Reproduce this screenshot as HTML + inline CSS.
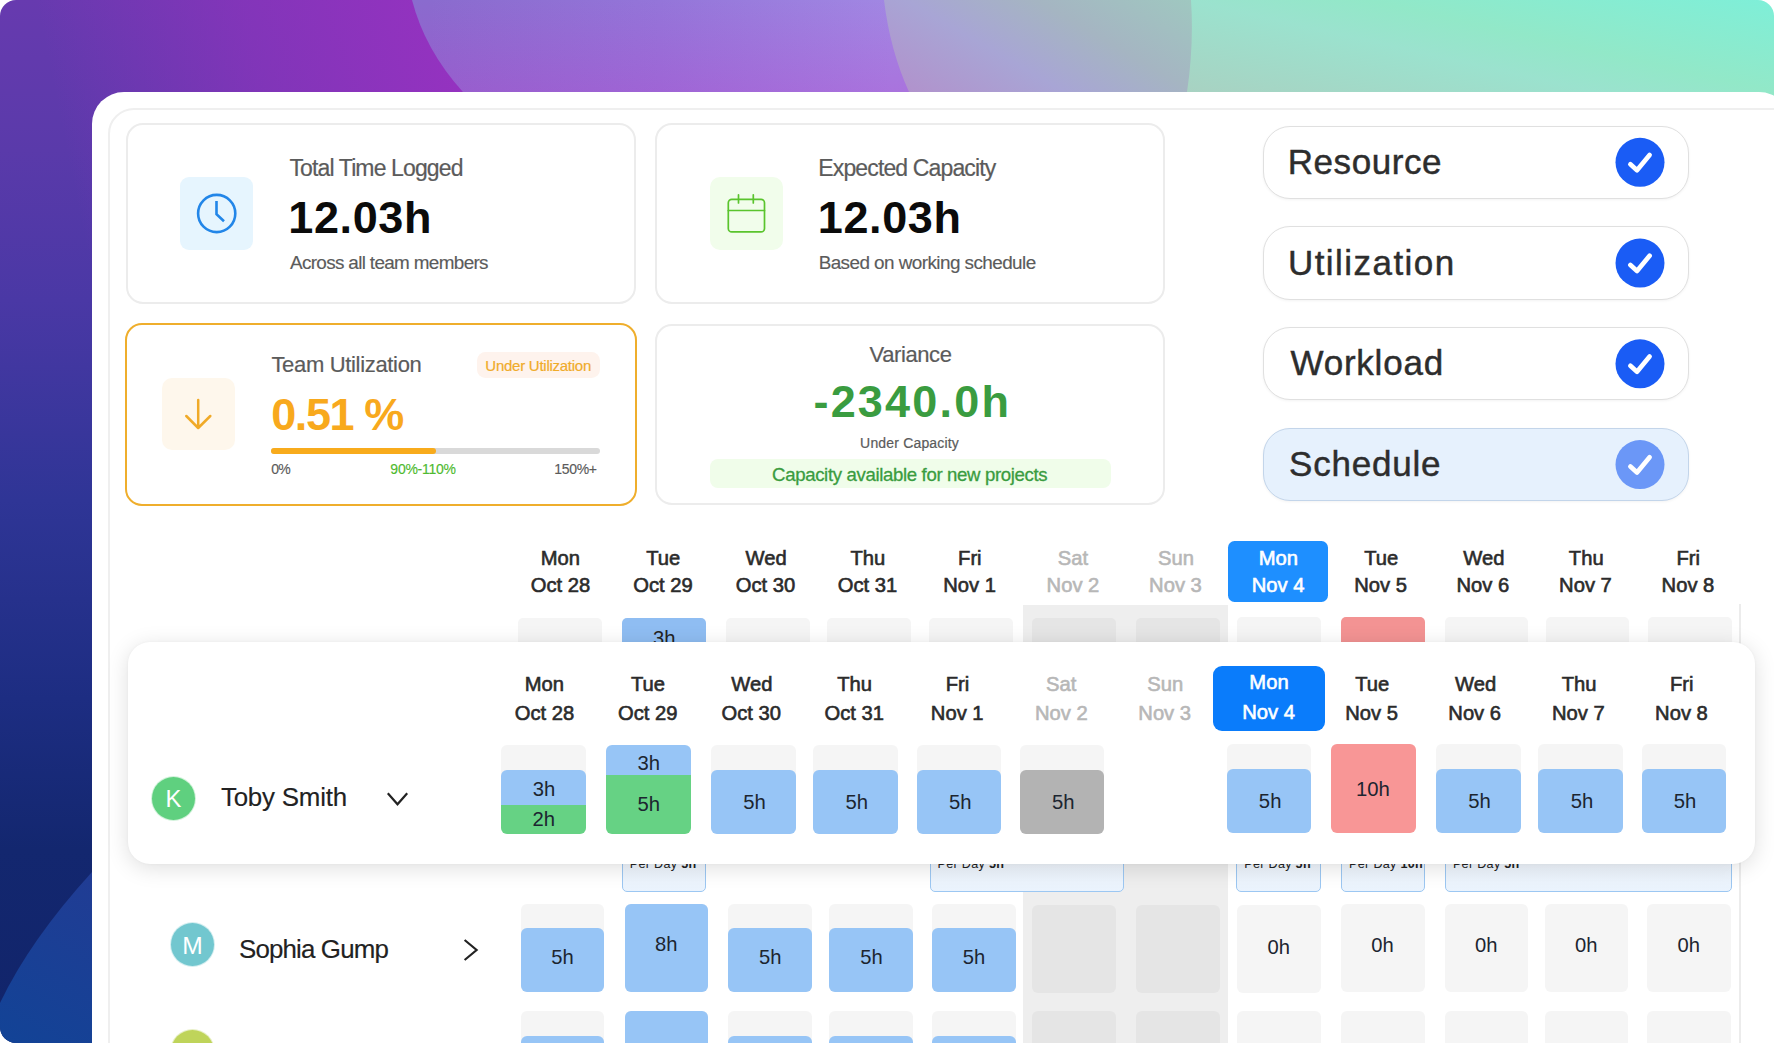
<!DOCTYPE html>
<html lang="en"><head><meta charset="utf-8"><title>Resource schedule</title>
<style>
html,body{margin:0;padding:0;background:#fff;}
body{width:1774px;height:1043px;overflow:hidden;position:relative;font-family:"Liberation Sans",sans-serif;}
.t{position:absolute;white-space:nowrap;line-height:1;}
.b{position:absolute;box-sizing:border-box;}
svg{position:absolute;left:0;top:0;overflow:visible;}
</style></head><body>
<svg width="1774" height="1043" viewBox="0 0 1774 1043">
<defs>
<clipPath id="rc"><rect x="0" y="0" width="1774" height="1043" rx="16" ry="16"/></clipPath>
<linearGradient id="g0" gradientUnits="userSpaceOnUse" x1="0" y1="0" x2="0" y2="1043">
<stop offset="0" stop-color="#673aaf"/><stop offset="0.144" stop-color="#5a3aaa"/><stop offset="0.288" stop-color="#4a38a5"/>
<stop offset="0.48" stop-color="#2f3596"/><stop offset="0.67" stop-color="#1d2d82"/><stop offset="0.815" stop-color="#13276f"/><stop offset="1" stop-color="#11246a"/>
</linearGradient>
<linearGradient id="g0b" gradientUnits="userSpaceOnUse" x1="50" y1="70" x2="445" y2="-10">
<stop offset="0" stop-color="#9532c0" stop-opacity="0"/><stop offset="0.5" stop-color="#9532c0" stop-opacity="0.6"/><stop offset="1" stop-color="#9532c0" stop-opacity="1"/>
</linearGradient>
<linearGradient id="g1" gradientUnits="userSpaceOnUse" x1="430" y1="0" x2="890" y2="0">
<stop offset="0" stop-color="#8a6bce"/><stop offset="0.5" stop-color="#9475d9"/><stop offset="1" stop-color="#a187e3"/>
</linearGradient>
<linearGradient id="g1b" gradientUnits="userSpaceOnUse" x1="0" y1="0" x2="0" y2="92">
<stop offset="0" stop-color="#c828c8" stop-opacity="0"/><stop offset="1" stop-color="#c828c8" stop-opacity="0.21"/>
</linearGradient>
<linearGradient id="g2" gradientUnits="userSpaceOnUse" x1="905" y1="92" x2="1017.2" y2="-102.5">
<stop offset="0" stop-color="#b192cc"/><stop offset="0.355" stop-color="#a8a5d5"/><stop offset="0.645" stop-color="#a5b5c2"/><stop offset="1" stop-color="#9fc8c0"/>
</linearGradient>
<linearGradient id="g3" gradientUnits="userSpaceOnUse" x1="1190" y1="92" x2="1237.8" y2="-120.6">
<stop offset="0" stop-color="#a8d2c2"/><stop offset="0.41" stop-color="#9be2ce"/><stop offset="0.59" stop-color="#92e8c8"/><stop offset="1" stop-color="#7eefd8"/>
</linearGradient>
<linearGradient id="g4" gradientUnits="userSpaceOnUse" x1="92" y1="870" x2="0" y2="1043">
<stop offset="0" stop-color="#213c94"/><stop offset="1" stop-color="#124396"/>
</linearGradient>
</defs>
<g clip-path="url(#rc)">
<rect x="0" y="0" width="1000" height="1043" fill="url(#g0)"/>
<rect x="0" y="0" width="1000" height="420" fill="url(#g0b)"/>
<path d="M412,0 Q425,50 463,92 L920,92 L900,0 Z" fill="url(#g1)"/>
<path d="M412,0 Q425,50 463,92 L920,92 L900,0 Z" fill="url(#g1b)"/>
<path d="M884,0 Q890,50 909,92 L909,140 L1200,140 L1200,0 Z" fill="url(#g2)"/>
<path d="M1191,0 Q1194,45 1187,92 L1187,140 L1774,140 L1774,0 Z" fill="url(#g3)"/>
<path d="M92,872 Q30,940 0,1003 L0,1043 L92,1043 Z" fill="url(#g4)"/>
</g>
</svg>
<div class="b" style="left:92.00px;top:91.50px;width:1699.00px;height:1108.50px;background:#fff;border-radius:32px;"></div>
<div class="b" style="left:107.5px;top:107.5px;width:1800px;height:1100px;border:2.5px solid #efefef;border-radius:26px;"></div>
<div class="b" style="left:126px;top:122.5px;width:509.5px;height:181.5px;border:2px solid #ececec;border-radius:17px;background:#fff;"></div>
<div class="b" style="left:655px;top:122.5px;width:510px;height:181.5px;border:2px solid #ececec;border-radius:17px;background:#fff;"></div>
<div class="b" style="left:125.4px;top:323px;width:511.20000000000005px;height:182.5px;border:2.5px solid #efae2c;border-radius:17px;background:#fff;"></div>
<div class="b" style="left:655px;top:323.5px;width:510px;height:181.5px;border:2px solid #ececec;border-radius:17px;background:#fff;"></div>
<div class="b" style="left:180.00px;top:177.00px;width:73.00px;height:73.00px;background:#e6f5fe;border-radius:9px;"></div>
<div class="t" style="left:289.49px;top:157.00px;font-size:23.00px;color:#5b5b5b;letter-spacing:-0.873px;-webkit-text-stroke:0.2px #5b5b5b;">Total Time Logged</div>
<div class="t" style="left:288.31px;top:195.00px;font-size:45.00px;color:#0b0b0b;letter-spacing:0.615px;font-weight:700;">12.03h</div>
<div class="t" style="left:289.96px;top:254.00px;font-size:18.90px;color:#5b5b5b;letter-spacing:-0.659px;-webkit-text-stroke:0.15px #5b5b5b;">Across all team members</div>
<div class="b" style="left:710.00px;top:177.00px;width:72.50px;height:72.50px;background:#f1fdeb;border-radius:10px;"></div>
<div class="t" style="left:818.31px;top:157.00px;font-size:23.00px;color:#5b5b5b;letter-spacing:-0.865px;-webkit-text-stroke:0.2px #5b5b5b;">Expected Capacity</div>
<div class="t" style="left:817.81px;top:195.00px;font-size:45.00px;color:#0b0b0b;letter-spacing:0.615px;font-weight:700;">12.03h</div>
<div class="t" style="left:818.65px;top:254.00px;font-size:18.90px;color:#5b5b5b;letter-spacing:-0.561px;-webkit-text-stroke:0.15px #5b5b5b;">Based on working schedule</div>
<div class="b" style="left:162.00px;top:377.70px;width:73.00px;height:72.80px;background:#fef7ec;border-radius:10px;"></div>
<div class="t" style="left:271.42px;top:354.00px;font-size:22.00px;color:#5b5b5b;letter-spacing:-0.326px;-webkit-text-stroke:0.2px #5b5b5b;">Team Utilization</div>
<div class="b" style="left:476.80px;top:352.20px;width:123.20px;height:25.50px;background:#fef3ed;border-radius:8.5px;"></div>
<div class="t" style="left:485.35px;top:358.00px;font-size:15.00px;color:#f0ab2a;letter-spacing:-0.258px;-webkit-text-stroke:0.2px #f0ab2a;">Under Utilization</div>
<div class="t" style="left:271.25px;top:392.00px;font-size:45.00px;color:#f8a91d;letter-spacing:-1.433px;font-weight:700;">0.51 %</div>
<div class="b" style="left:271.30px;top:447.70px;width:328.70px;height:6.20px;background:#d9d9d9;border-radius:3.1px;"></div>
<div class="b" style="left:271.30px;top:447.70px;width:164.40px;height:6.20px;background:#f8ab1c;border-radius:3.1px;"></div>
<div class="t" style="left:271.25px;top:462.00px;font-size:14.00px;color:#5b5b5b;letter-spacing:-0.696px;-webkit-text-stroke:0.15px #5b5b5b;">0%</div>
<div class="t" style="left:390.36px;top:462.00px;font-size:14.00px;color:#4fba2f;letter-spacing:-0.259px;-webkit-text-stroke:0.15px #4fba2f;">90%-110%</div>
<div class="t" style="left:554.24px;top:462.00px;font-size:14.00px;color:#5b5b5b;letter-spacing:-0.308px;-webkit-text-stroke:0.15px #5b5b5b;">150%+</div>
<div class="t" style="left:869.56px;top:344.00px;font-size:22.00px;color:#5b5b5b;letter-spacing:-0.405px;-webkit-text-stroke:0.2px #5b5b5b;">Variance</div>
<div class="t" style="left:813.45px;top:379.00px;font-size:45.00px;color:#3a9c40;letter-spacing:2.204px;font-weight:700;">-2340.0h</div>
<div class="t" style="left:860.12px;top:436.00px;font-size:14.00px;color:#5b5b5b;letter-spacing:0.170px;-webkit-text-stroke:0.2px #5b5b5b;">Under Capacity</div>
<div class="b" style="left:710.00px;top:459.00px;width:401.00px;height:28.60px;background:#f0fdea;border-radius:8px;"></div>
<div class="t" style="left:772.12px;top:466.00px;font-size:18.60px;color:#3a9c40;letter-spacing:-0.347px;-webkit-text-stroke:0.3px #3a9c40;">Capacity available for new projects</div>
<svg width="1774" height="1043" viewBox="0 0 1774 1043" fill="none" stroke-linecap="round" stroke-linejoin="round">
<circle cx="216.7" cy="213.5" r="18.6" stroke="#2286e8" stroke-width="2.6"/>
<path d="M216.5,201 V214.2 L224,221.2" stroke="#2286e8" stroke-width="2.6" stroke-linecap="butt" stroke-linejoin="miter"/>
<rect x="728.3" y="199.3" width="36.2" height="32.6" rx="3.5" stroke="#5ac42d" stroke-width="1.7"/>
<path d="M728.3,210.5 H764.5 M738.5,194.8 V203 M753.3,194.8 V203" stroke="#5ac42d" stroke-width="1.7"/>
<path d="M198.2,400 V427.6 M186.3,416 L198.2,428 L210.3,416" stroke="#f0aa28" stroke-width="2.5"/>
</svg>
<div class="b" style="left:1263.3px;top:125.5px;width:426px;height:73.0px;border:1.3px solid #e0e0e0;border-radius:27px;background:#fff;box-shadow:0 1px 3px rgba(0,0,0,0.05);"></div>
<div class="t" style="left:1287.73px;top:144.00px;font-size:35.00px;color:#2d2d2d;letter-spacing:0.575px;-webkit-text-stroke:0.45px #2d2d2d;">Resource</div>
<svg width="1774" height="1043" viewBox="0 0 1774 1043" fill="none"><circle cx="1640" cy="162.3" r="24.5" fill="#1a5cf5"/><path d="M1630.4,164.3 L1637,170.20000000000002 L1649.6,155.0" stroke="#fff" stroke-width="4.7" stroke-linecap="round" stroke-linejoin="round"/></svg>
<div class="b" style="left:1263.3px;top:226px;width:426px;height:73.5px;border:1.3px solid #e0e0e0;border-radius:27px;background:#fff;box-shadow:0 1px 3px rgba(0,0,0,0.05);"></div>
<div class="t" style="left:1287.90px;top:245.00px;font-size:35.00px;color:#2d2d2d;letter-spacing:1.462px;-webkit-text-stroke:0.45px #2d2d2d;">Utilization</div>
<svg width="1774" height="1043" viewBox="0 0 1774 1043" fill="none"><circle cx="1640" cy="263.05" r="24.5" fill="#1a5cf5"/><path d="M1630.4,265.05 L1637,270.95 L1649.6,255.75" stroke="#fff" stroke-width="4.7" stroke-linecap="round" stroke-linejoin="round"/></svg>
<div class="b" style="left:1263.3px;top:327px;width:426px;height:73px;border:1.3px solid #e0e0e0;border-radius:27px;background:#fff;box-shadow:0 1px 3px rgba(0,0,0,0.05);"></div>
<div class="t" style="left:1290.46px;top:345.00px;font-size:35.00px;color:#2d2d2d;letter-spacing:0.784px;-webkit-text-stroke:0.45px #2d2d2d;">Workload</div>
<svg width="1774" height="1043" viewBox="0 0 1774 1043" fill="none"><circle cx="1640" cy="363.8" r="24.5" fill="#1a5cf5"/><path d="M1630.4,365.8 L1637,371.7 L1649.6,356.5" stroke="#fff" stroke-width="4.7" stroke-linecap="round" stroke-linejoin="round"/></svg>
<div class="b" style="left:1263.3px;top:427.6px;width:426px;height:73.39999999999998px;border:1.3px solid #c3d5ea;border-radius:27px;background:#e6f1fd;box-shadow:0 1px 3px rgba(0,0,0,0.05);"></div>
<div class="t" style="left:1289.02px;top:446.00px;font-size:35.00px;color:#2d2d2d;letter-spacing:0.782px;-webkit-text-stroke:0.45px #2d2d2d;">Schedule</div>
<svg width="1774" height="1043" viewBox="0 0 1774 1043" fill="none"><circle cx="1640" cy="464.6" r="24.5" fill="#6b97f7"/><path d="M1630.4,466.6 L1637,472.5 L1649.6,457.3" stroke="#fff" stroke-width="4.7" stroke-linecap="round" stroke-linejoin="round"/></svg>
<div class="b" style="left:1023.00px;top:604.50px;width:205.40px;height:438.50px;background:#eeeeee;border-radius:0px;"></div>
<div class="b" style="left:1739.40px;top:604.00px;width:1.40px;height:439.00px;background:#ececec;border-radius:0px;"></div>
<div class="b" style="left:1228.30px;top:540.70px;width:100.10px;height:61.40px;background:#1e8fff;border-radius:6.5px;"></div>
<div class="t" style="left:540.67px;top:548.00px;font-size:20.20px;color:#2b2b2b;-webkit-text-stroke:0.6px #2b2b2b;">Mon</div>
<div class="t" style="left:530.71px;top:575.00px;font-size:20.20px;color:#2b2b2b;-webkit-text-stroke:0.6px #2b2b2b;">Oct 28</div>
<div class="t" style="left:646.19px;top:548.00px;font-size:20.20px;color:#2b2b2b;-webkit-text-stroke:0.6px #2b2b2b;">Tue</div>
<div class="t" style="left:633.25px;top:575.00px;font-size:20.20px;color:#2b2b2b;-webkit-text-stroke:0.6px #2b2b2b;">Oct 29</div>
<div class="t" style="left:745.62px;top:548.00px;font-size:20.20px;color:#2b2b2b;-webkit-text-stroke:0.6px #2b2b2b;">Wed</div>
<div class="t" style="left:735.76px;top:575.00px;font-size:20.20px;color:#2b2b2b;-webkit-text-stroke:0.6px #2b2b2b;">Oct 30</div>
<div class="t" style="left:850.54px;top:548.00px;font-size:20.20px;color:#2b2b2b;-webkit-text-stroke:0.6px #2b2b2b;">Thu</div>
<div class="t" style="left:837.76px;top:575.00px;font-size:20.20px;color:#2b2b2b;-webkit-text-stroke:0.6px #2b2b2b;">Oct 31</div>
<div class="t" style="left:958.07px;top:548.00px;font-size:20.20px;color:#2b2b2b;-webkit-text-stroke:0.6px #2b2b2b;">Fri</div>
<div class="t" style="left:943.27px;top:575.00px;font-size:20.20px;color:#2b2b2b;-webkit-text-stroke:0.6px #2b2b2b;">Nov 1</div>
<div class="t" style="left:1057.75px;top:548.00px;font-size:20.20px;color:#b7b7b7;-webkit-text-stroke:0.6px #b7b7b7;">Sat</div>
<div class="t" style="left:1046.59px;top:575.00px;font-size:20.20px;color:#b7b7b7;-webkit-text-stroke:0.6px #b7b7b7;">Nov 2</div>
<div class="t" style="left:1158.12px;top:548.00px;font-size:20.20px;color:#b7b7b7;-webkit-text-stroke:0.6px #b7b7b7;">Sun</div>
<div class="t" style="left:1149.12px;top:575.00px;font-size:20.20px;color:#b7b7b7;-webkit-text-stroke:0.6px #b7b7b7;">Nov 3</div>
<div class="t" style="left:1258.77px;top:548.00px;font-size:20.20px;color:#fff;-webkit-text-stroke:0.6px #fff;">Mon</div>
<div class="t" style="left:1251.68px;top:575.00px;font-size:20.20px;color:#fff;-webkit-text-stroke:0.6px #fff;">Nov 4</div>
<div class="t" style="left:1364.19px;top:548.00px;font-size:20.20px;color:#2b2b2b;-webkit-text-stroke:0.6px #2b2b2b;">Tue</div>
<div class="t" style="left:1354.20px;top:575.00px;font-size:20.20px;color:#2b2b2b;-webkit-text-stroke:0.6px #2b2b2b;">Nov 5</div>
<div class="t" style="left:1463.32px;top:548.00px;font-size:20.20px;color:#2b2b2b;-webkit-text-stroke:0.6px #2b2b2b;">Wed</div>
<div class="t" style="left:1456.52px;top:575.00px;font-size:20.20px;color:#2b2b2b;-webkit-text-stroke:0.6px #2b2b2b;">Nov 6</div>
<div class="t" style="left:1568.84px;top:548.00px;font-size:20.20px;color:#2b2b2b;-webkit-text-stroke:0.6px #2b2b2b;">Thu</div>
<div class="t" style="left:1559.09px;top:575.00px;font-size:20.20px;color:#2b2b2b;-webkit-text-stroke:0.6px #2b2b2b;">Nov 7</div>
<div class="t" style="left:1676.47px;top:548.00px;font-size:20.20px;color:#2b2b2b;-webkit-text-stroke:0.6px #2b2b2b;">Fri</div>
<div class="t" style="left:1661.62px;top:575.00px;font-size:20.20px;color:#2b2b2b;-webkit-text-stroke:0.6px #2b2b2b;">Nov 8</div>
<div class="b" style="left:518.30px;top:618.30px;width:83.40px;height:41.70px;background:#f5f5f5;border-radius:5px;"></div>
<div class="b" style="left:621.80px;top:618.30px;width:84.20px;height:41.70px;background:#8fbdf2;border-radius:5px;"></div>
<div class="b" style="left:726.00px;top:618.30px;width:83.60px;height:41.70px;background:#f5f5f5;border-radius:5px;"></div>
<div class="b" style="left:827.00px;top:618.30px;width:84.00px;height:41.70px;background:#f5f5f5;border-radius:5px;"></div>
<div class="b" style="left:929.30px;top:618.30px;width:83.70px;height:41.70px;background:#f5f5f5;border-radius:5px;"></div>
<div class="b" style="left:1032.20px;top:618.30px;width:83.80px;height:41.70px;background:#e5e5e5;border-radius:5px;"></div>
<div class="b" style="left:1136.30px;top:618.30px;width:83.70px;height:41.70px;background:#e5e5e5;border-radius:5px;"></div>
<div class="b" style="left:1236.80px;top:617.30px;width:84.30px;height:42.70px;background:#f5f5f5;border-radius:5px;"></div>
<div class="b" style="left:1340.90px;top:617.30px;width:83.70px;height:42.70px;background:#f39393;border-radius:5px;"></div>
<div class="b" style="left:1444.50px;top:617.30px;width:83.70px;height:42.70px;background:#f5f5f5;border-radius:5px;"></div>
<div class="b" style="left:1545.90px;top:617.30px;width:83.60px;height:42.70px;background:#f5f5f5;border-radius:5px;"></div>
<div class="b" style="left:1648.00px;top:617.30px;width:84.00px;height:42.70px;background:#f5f5f5;border-radius:5px;"></div>
<div class="t" style="left:652.93px;top:628.00px;font-size:20.20px;color:#222;">3h</div>
<div class="b" style="left:621.8px;top:840px;width:84.20000000000005px;height:52.39999999999998px;border:1.3px solid #9cc7f2;border-radius:5px;background:linear-gradient(#f5f9fe,#eaf3fd);"></div>
<div class="t" style="left:629.8px;top:858.13px;font-size:12.6px;color:#222;letter-spacing:0.3px;">Per Day <b>5h</b></div>
<div class="b" style="left:929.5px;top:840px;width:194.79999999999995px;height:52.39999999999998px;border:1.3px solid #9cc7f2;border-radius:5px;background:linear-gradient(#f5f9fe,#eaf3fd);"></div>
<div class="t" style="left:937.5px;top:858.13px;font-size:12.6px;color:#222;letter-spacing:0.3px;">Per Day <b>5h</b></div>
<div class="b" style="left:1236.2px;top:840px;width:84.5px;height:52.39999999999998px;border:1.3px solid #9cc7f2;border-radius:5px;background:linear-gradient(#f5f9fe,#eaf3fd);"></div>
<div class="t" style="left:1244.2px;top:858.13px;font-size:12.6px;color:#222;letter-spacing:0.3px;">Per Day <b>5h</b></div>
<div class="b" style="left:1341.1px;top:840px;width:83.5px;height:52.39999999999998px;border:1.3px solid #9cc7f2;border-radius:5px;background:linear-gradient(#f5f9fe,#eaf3fd);"></div>
<div class="t" style="left:1349.1px;top:858.13px;font-size:12.6px;color:#222;letter-spacing:0.3px;">Per Day <b>10h</b></div>
<div class="b" style="left:1444.9px;top:840px;width:286.6999999999998px;height:52.39999999999998px;border:1.3px solid #9cc7f2;border-radius:5px;background:linear-gradient(#f5f9fe,#eaf3fd);"></div>
<div class="t" style="left:1452.9px;top:858.13px;font-size:12.6px;color:#222;letter-spacing:0.3px;">Per Day <b>5h</b></div>
<div class="b" style="left:170.6px;top:922.5px;width:43.8px;height:43.8px;border-radius:50%;background:#72c7cf;box-shadow:0 0 0 1px #d4eef0;"></div>
<div class="t" style="left:182.25px;top:934.00px;font-size:24.60px;color:#fff;">M</div>
<div class="t" style="left:239.03px;top:937.00px;font-size:25.90px;color:#222;letter-spacing:-0.854px;-webkit-text-stroke:0.15px #222;">Sophia Gump</div>
<svg width="1774" height="1043" viewBox="0 0 1774 1043" fill="none" stroke="#222" stroke-width="2.2" stroke-linecap="butt" stroke-linejoin="miter"><path d="M464.6,940 L476.6,950 L464.6,960"/></svg>
<div class="b" style="left:520.90px;top:904.20px;width:83.40px;height:88.00px;background:#f5f5f5;border-radius:6px;"></div>
<div class="b" style="left:520.90px;top:928.20px;width:83.40px;height:64.00px;background:#97c5f6;border-radius:6px;"></div>
<div class="t" style="left:551.31px;top:947.00px;font-size:20.20px;color:#1c2530;">5h</div>
<div class="b" style="left:624.70px;top:904.20px;width:83.30px;height:88.00px;background:#f5f5f5;border-radius:6px;"></div>
<div class="b" style="left:624.70px;top:904.00px;width:83.30px;height:88.20px;background:#97c5f6;border-radius:6px;"></div>
<div class="t" style="left:654.98px;top:934.00px;font-size:20.20px;color:#1c2530;">8h</div>
<div class="b" style="left:727.90px;top:904.20px;width:83.90px;height:88.00px;background:#f5f5f5;border-radius:6px;"></div>
<div class="b" style="left:727.90px;top:928.20px;width:83.90px;height:64.00px;background:#97c5f6;border-radius:6px;"></div>
<div class="t" style="left:758.91px;top:947.00px;font-size:20.20px;color:#1c2530;">5h</div>
<div class="b" style="left:829.40px;top:904.20px;width:83.90px;height:88.00px;background:#f5f5f5;border-radius:6px;"></div>
<div class="b" style="left:829.40px;top:928.20px;width:83.90px;height:64.00px;background:#97c5f6;border-radius:6px;"></div>
<div class="t" style="left:860.31px;top:947.00px;font-size:20.20px;color:#1c2530;">5h</div>
<div class="b" style="left:931.90px;top:904.20px;width:83.90px;height:88.00px;background:#f5f5f5;border-radius:6px;"></div>
<div class="b" style="left:931.90px;top:928.20px;width:83.90px;height:64.00px;background:#97c5f6;border-radius:6px;"></div>
<div class="t" style="left:962.81px;top:947.00px;font-size:20.20px;color:#1c2530;">5h</div>
<div class="b" style="left:1031.60px;top:905.00px;width:84.30px;height:88.00px;background:#e5e5e5;border-radius:6px;"></div>
<div class="b" style="left:1135.80px;top:905.00px;width:84.20px;height:88.00px;background:#e5e5e5;border-radius:6px;"></div>
<div class="b" style="left:1236.90px;top:904.80px;width:84.10px;height:88.20px;background:#f5f5f5;border-radius:6px;"></div>
<div class="t" style="left:1267.62px;top:937.00px;font-size:20.20px;color:#1c2530;">0h</div>
<div class="b" style="left:1341.10px;top:904.00px;width:83.50px;height:88.20px;background:#f5f5f5;border-radius:6px;"></div>
<div class="t" style="left:1371.22px;top:935.00px;font-size:20.20px;color:#1c2530;">0h</div>
<div class="b" style="left:1444.90px;top:904.00px;width:83.50px;height:88.20px;background:#f5f5f5;border-radius:6px;"></div>
<div class="t" style="left:1475.02px;top:935.00px;font-size:20.20px;color:#1c2530;">0h</div>
<div class="b" style="left:1544.60px;top:904.00px;width:83.50px;height:88.20px;background:#f5f5f5;border-radius:6px;"></div>
<div class="t" style="left:1575.02px;top:935.00px;font-size:20.20px;color:#1c2530;">0h</div>
<div class="b" style="left:1646.80px;top:904.00px;width:84.20px;height:88.20px;background:#f5f5f5;border-radius:6px;"></div>
<div class="t" style="left:1677.62px;top:935.00px;font-size:20.20px;color:#1c2530;">0h</div>
<div class="b" style="left:170.6px;top:1030.2px;width:43.8px;height:43.8px;border-radius:50%;background:#bfd45a;box-shadow:0 0 0 1px #e8f0c8;"></div>
<div class="b" style="left:520.90px;top:1011.00px;width:83.40px;height:89.00px;background:#f5f5f5;border-radius:6px;"></div>
<div class="b" style="left:520.90px;top:1035.50px;width:83.40px;height:64.50px;background:#97c5f6;border-radius:6px;"></div>
<div class="b" style="left:624.70px;top:1011.00px;width:83.30px;height:89.00px;background:#f5f5f5;border-radius:6px;"></div>
<div class="b" style="left:624.70px;top:1011.00px;width:83.30px;height:89.00px;background:#97c5f6;border-radius:6px;"></div>
<div class="b" style="left:727.90px;top:1011.00px;width:83.90px;height:89.00px;background:#f5f5f5;border-radius:6px;"></div>
<div class="b" style="left:727.90px;top:1035.50px;width:83.90px;height:64.50px;background:#97c5f6;border-radius:6px;"></div>
<div class="b" style="left:829.40px;top:1011.00px;width:83.90px;height:89.00px;background:#f5f5f5;border-radius:6px;"></div>
<div class="b" style="left:829.40px;top:1035.50px;width:83.90px;height:64.50px;background:#97c5f6;border-radius:6px;"></div>
<div class="b" style="left:931.90px;top:1011.00px;width:83.90px;height:89.00px;background:#f5f5f5;border-radius:6px;"></div>
<div class="b" style="left:931.90px;top:1035.50px;width:83.90px;height:64.50px;background:#97c5f6;border-radius:6px;"></div>
<div class="b" style="left:1031.60px;top:1010.50px;width:84.30px;height:89.50px;background:#e5e5e5;border-radius:6px;"></div>
<div class="b" style="left:1135.80px;top:1010.50px;width:84.20px;height:89.50px;background:#e5e5e5;border-radius:6px;"></div>
<div class="b" style="left:1236.90px;top:1010.50px;width:84.10px;height:89.50px;background:#f5f5f5;border-radius:6px;"></div>
<div class="b" style="left:1341.10px;top:1010.50px;width:83.50px;height:89.50px;background:#f5f5f5;border-radius:6px;"></div>
<div class="b" style="left:1444.90px;top:1010.50px;width:83.50px;height:89.50px;background:#f5f5f5;border-radius:6px;"></div>
<div class="b" style="left:1544.60px;top:1010.50px;width:83.50px;height:89.50px;background:#f5f5f5;border-radius:6px;"></div>
<div class="b" style="left:1646.80px;top:1010.50px;width:84.20px;height:89.50px;background:#f5f5f5;border-radius:6px;"></div>
<div class="b" style="left:128.2px;top:642px;width:1627.3px;height:221.8px;border-radius:22px;background:#fff;box-shadow:0 4px 22px rgba(0,0,0,0.13),0 0 3px rgba(0,0,0,0.04);"></div>
<div class="b" style="left:1213.00px;top:666.00px;width:112.00px;height:65.00px;background:#0a7cfb;border-radius:9px;"></div>
<div class="t" style="left:524.77px;top:674.00px;font-size:20.20px;color:#2b2b2b;-webkit-text-stroke:0.6px #2b2b2b;">Mon</div>
<div class="t" style="left:514.81px;top:703.00px;font-size:20.20px;color:#2b2b2b;-webkit-text-stroke:0.6px #2b2b2b;">Oct 28</div>
<div class="t" style="left:630.99px;top:674.00px;font-size:20.20px;color:#2b2b2b;-webkit-text-stroke:0.6px #2b2b2b;">Tue</div>
<div class="t" style="left:618.05px;top:703.00px;font-size:20.20px;color:#2b2b2b;-webkit-text-stroke:0.6px #2b2b2b;">Oct 29</div>
<div class="t" style="left:731.32px;top:674.00px;font-size:20.20px;color:#2b2b2b;-webkit-text-stroke:0.6px #2b2b2b;">Wed</div>
<div class="t" style="left:721.46px;top:703.00px;font-size:20.20px;color:#2b2b2b;-webkit-text-stroke:0.6px #2b2b2b;">Oct 30</div>
<div class="t" style="left:837.24px;top:674.00px;font-size:20.20px;color:#2b2b2b;-webkit-text-stroke:0.6px #2b2b2b;">Thu</div>
<div class="t" style="left:824.46px;top:703.00px;font-size:20.20px;color:#2b2b2b;-webkit-text-stroke:0.6px #2b2b2b;">Oct 31</div>
<div class="t" style="left:945.67px;top:674.00px;font-size:20.20px;color:#2b2b2b;-webkit-text-stroke:0.6px #2b2b2b;">Fri</div>
<div class="t" style="left:930.87px;top:703.00px;font-size:20.20px;color:#2b2b2b;-webkit-text-stroke:0.6px #2b2b2b;">Nov 1</div>
<div class="t" style="left:1046.05px;top:674.00px;font-size:20.20px;color:#b7b7b7;-webkit-text-stroke:0.6px #b7b7b7;">Sat</div>
<div class="t" style="left:1034.89px;top:703.00px;font-size:20.20px;color:#b7b7b7;-webkit-text-stroke:0.6px #b7b7b7;">Nov 2</div>
<div class="t" style="left:1147.32px;top:674.00px;font-size:20.20px;color:#b7b7b7;-webkit-text-stroke:0.6px #b7b7b7;">Sun</div>
<div class="t" style="left:1138.32px;top:703.00px;font-size:20.20px;color:#b7b7b7;-webkit-text-stroke:0.6px #b7b7b7;">Nov 3</div>
<div class="t" style="left:1249.37px;top:672.00px;font-size:20.20px;color:#fff;-webkit-text-stroke:0.6px #fff;">Mon</div>
<div class="t" style="left:1242.28px;top:702.00px;font-size:20.20px;color:#fff;-webkit-text-stroke:0.6px #fff;">Nov 4</div>
<div class="t" style="left:1355.19px;top:674.00px;font-size:20.20px;color:#2b2b2b;-webkit-text-stroke:0.6px #2b2b2b;">Tue</div>
<div class="t" style="left:1345.20px;top:703.00px;font-size:20.20px;color:#2b2b2b;-webkit-text-stroke:0.6px #2b2b2b;">Nov 5</div>
<div class="t" style="left:1455.12px;top:674.00px;font-size:20.20px;color:#2b2b2b;-webkit-text-stroke:0.6px #2b2b2b;">Wed</div>
<div class="t" style="left:1448.32px;top:703.00px;font-size:20.20px;color:#2b2b2b;-webkit-text-stroke:0.6px #2b2b2b;">Nov 6</div>
<div class="t" style="left:1561.64px;top:674.00px;font-size:20.20px;color:#2b2b2b;-webkit-text-stroke:0.6px #2b2b2b;">Thu</div>
<div class="t" style="left:1551.89px;top:703.00px;font-size:20.20px;color:#2b2b2b;-webkit-text-stroke:0.6px #2b2b2b;">Nov 7</div>
<div class="t" style="left:1669.97px;top:674.00px;font-size:20.20px;color:#2b2b2b;-webkit-text-stroke:0.6px #2b2b2b;">Fri</div>
<div class="t" style="left:1655.12px;top:703.00px;font-size:20.20px;color:#2b2b2b;-webkit-text-stroke:0.6px #2b2b2b;">Nov 8</div>
<div class="b" style="left:151.7px;top:776.6px;width:43.8px;height:43.8px;border-radius:50%;background:#5fd07f;box-shadow:0 0 0 1px #d2f2db;"></div>
<div class="t" style="left:165.52px;top:787.00px;font-size:23.80px;color:#fff;">K</div>
<div class="t" style="left:220.93px;top:785.00px;font-size:25.90px;color:#222;letter-spacing:-0.209px;-webkit-text-stroke:0.15px #222;">Toby Smith</div>
<div class="b" style="left:501.40px;top:744.80px;width:84.60px;height:89.50px;background:#f5f5f5;border-radius:6px;"></div>
<div class="b" style="left:501.4px;top:769.8px;width:84.60000000000002px;height:64.5px;border-radius:6px;background:linear-gradient(#97c5f6 0,#97c5f6 34.8px,#66d284 34.8px);"></div>
<div class="t" style="left:532.68px;top:779.00px;font-size:20.30px;color:#1c2530;">3h</div>
<div class="t" style="left:532.55px;top:809.00px;font-size:20.30px;color:#1c2530;">2h</div>
<div class="b" style="left:606.1px;top:744.8px;width:85.0px;height:89.5px;border-radius:6px;background:linear-gradient(#97c5f6 0,#97c5f6 30px,#66d284 30px);"></div>
<div class="t" style="left:637.48px;top:753.00px;font-size:20.30px;color:#1c2530;">3h</div>
<div class="t" style="left:637.46px;top:794.00px;font-size:20.30px;color:#1c2530;">5h</div>
<div class="b" style="left:711.00px;top:744.80px;width:84.60px;height:89.50px;background:#f5f5f5;border-radius:6px;"></div>
<div class="b" style="left:711.00px;top:770.00px;width:84.60px;height:64.30px;background:#97c5f6;border-radius:6px;"></div>
<div class="t" style="left:743.26px;top:792.00px;font-size:20.30px;color:#1c2530;">5h</div>
<div class="b" style="left:813.20px;top:744.80px;width:84.50px;height:89.50px;background:#f5f5f5;border-radius:6px;"></div>
<div class="b" style="left:813.20px;top:770.00px;width:84.50px;height:64.30px;background:#97c5f6;border-radius:6px;"></div>
<div class="t" style="left:845.46px;top:792.00px;font-size:20.30px;color:#1c2530;">5h</div>
<div class="b" style="left:916.70px;top:744.80px;width:84.20px;height:89.50px;background:#f5f5f5;border-radius:6px;"></div>
<div class="b" style="left:916.70px;top:770.00px;width:84.20px;height:64.30px;background:#97c5f6;border-radius:6px;"></div>
<div class="t" style="left:948.96px;top:792.00px;font-size:20.30px;color:#1c2530;">5h</div>
<div class="b" style="left:1020.20px;top:744.80px;width:84.20px;height:89.50px;background:#f5f5f5;border-radius:6px;"></div>
<div class="b" style="left:1020.20px;top:770.00px;width:84.20px;height:64.30px;background:#b3b3b3;border-radius:6px;"></div>
<div class="t" style="left:1052.06px;top:792.00px;font-size:20.30px;color:#1c2530;">5h</div>
<div class="b" style="left:1226.50px;top:743.50px;width:84.80px;height:89.50px;background:#f5f5f5;border-radius:6px;"></div>
<div class="b" style="left:1226.50px;top:768.70px;width:84.80px;height:64.30px;background:#97c5f6;border-radius:6px;"></div>
<div class="t" style="left:1258.86px;top:791.00px;font-size:20.30px;color:#1c2530;">5h</div>
<div class="b" style="left:1331.40px;top:743.80px;width:84.70px;height:89.20px;background:#f89696;border-radius:6px;"></div>
<div class="t" style="left:1356.04px;top:779.00px;font-size:20.30px;color:#1c2530;">10h</div>
<div class="b" style="left:1436.20px;top:743.50px;width:84.50px;height:89.50px;background:#f5f5f5;border-radius:6px;"></div>
<div class="b" style="left:1436.20px;top:768.70px;width:84.50px;height:64.30px;background:#97c5f6;border-radius:6px;"></div>
<div class="t" style="left:1468.16px;top:791.00px;font-size:20.30px;color:#1c2530;">5h</div>
<div class="b" style="left:1538.10px;top:743.50px;width:84.80px;height:89.50px;background:#f5f5f5;border-radius:6px;"></div>
<div class="b" style="left:1538.10px;top:768.70px;width:84.80px;height:64.30px;background:#97c5f6;border-radius:6px;"></div>
<div class="t" style="left:1570.76px;top:791.00px;font-size:20.30px;color:#1c2530;">5h</div>
<div class="b" style="left:1641.70px;top:743.50px;width:84.40px;height:89.50px;background:#f5f5f5;border-radius:6px;"></div>
<div class="b" style="left:1641.70px;top:768.70px;width:84.40px;height:64.30px;background:#97c5f6;border-radius:6px;"></div>
<div class="t" style="left:1673.66px;top:791.00px;font-size:20.30px;color:#1c2530;">5h</div>
<svg width="1774" height="1043" viewBox="0 0 1774 1043" fill="none" stroke="#222" stroke-width="2.2" stroke-linecap="butt" stroke-linejoin="miter"><path d="M387.8,793.2 L397.5,804.3 L407.2,793.2"/></svg>
</body></html>
